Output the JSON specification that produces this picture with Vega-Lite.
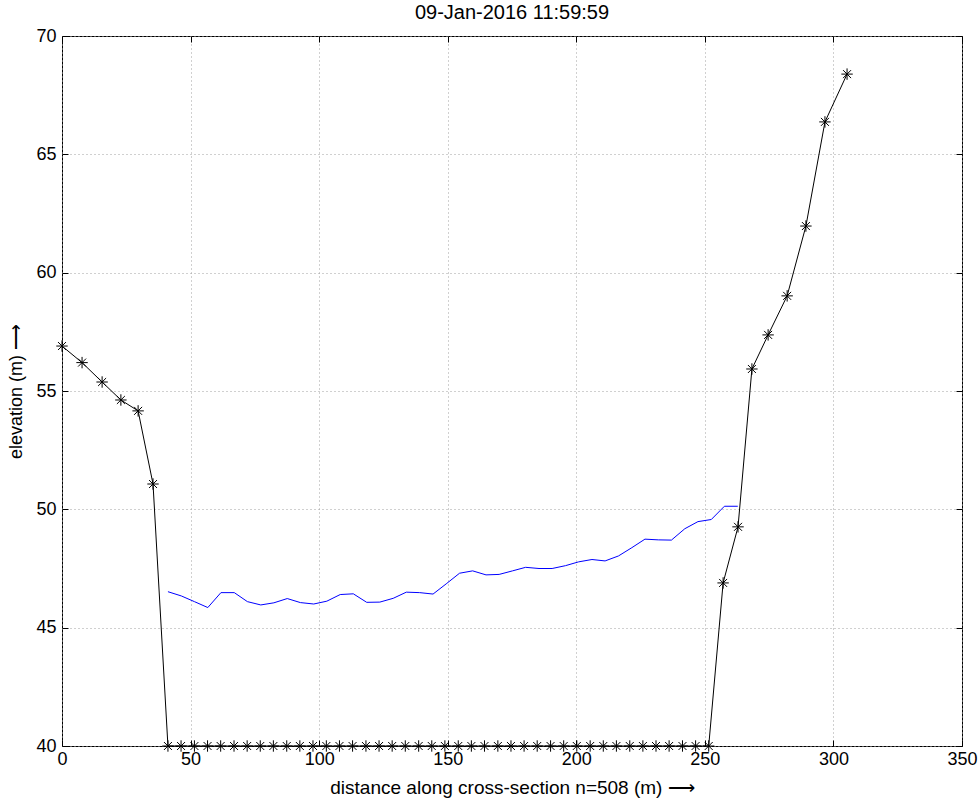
{
  "$schema": "https://vega.github.io/schema/vega-lite/v6.json",
  "autosize": {"type": "none"},
  "padding": {"left": 62, "top": 36, "right": 18, "bottom": 56},
  "width": 900,
  "height": 710,
  "background": "white",
  "config": {
    "font": "Liberation Sans",
    "view": {"stroke": "#000", "strokeWidth": 1},
    "title": {"fontSize": 20, "fontWeight": "normal", "color": "#000", "font": "Liberation Sans"},
    "axis": {"domain": false, "labelColor": "#000", "titleColor": "#000", "tickColor": "#000", "labelFont": "Liberation Sans", "titleFont": "Liberation Sans", "titleFontWeight": "normal", "labelFontSize": 18, "titleFontSize": 18}
  },
  "title": {"text": "09-Jan-2016 11:59:59", "fontSize": 20, "fontWeight": "normal", "anchor": "middle", "offset": 4, "font": "Liberation Sans", "color": "#000"},
  "datasets": {
    "bank": [
      {"i": 1, "d": 0, "z": 56.9},
      {"i": 2, "d": 7.8, "z": 56.2},
      {"i": 3, "d": 15.6, "z": 55.38},
      {"i": 4, "d": 22.9, "z": 54.62},
      {"i": 5, "d": 29.6, "z": 54.16},
      {"i": 6, "d": 35.4, "z": 51.07},
      {"i": 7, "d": 41.2, "z": 40},
      {"i": 8, "d": 46.3, "z": 40},
      {"i": 9, "d": 51.5, "z": 40},
      {"i": 10, "d": 56.6, "z": 40},
      {"i": 11, "d": 61.7, "z": 40},
      {"i": 12, "d": 66.9, "z": 40},
      {"i": 13, "d": 72.0, "z": 40},
      {"i": 14, "d": 77.1, "z": 40},
      {"i": 15, "d": 82.2, "z": 40},
      {"i": 16, "d": 87.4, "z": 40},
      {"i": 17, "d": 92.5, "z": 40},
      {"i": 18, "d": 97.6, "z": 40},
      {"i": 19, "d": 102.8, "z": 40},
      {"i": 20, "d": 107.9, "z": 40},
      {"i": 21, "d": 113.0, "z": 40},
      {"i": 22, "d": 118.2, "z": 40},
      {"i": 23, "d": 123.3, "z": 40},
      {"i": 24, "d": 128.4, "z": 40},
      {"i": 25, "d": 133.5, "z": 40},
      {"i": 26, "d": 138.7, "z": 40},
      {"i": 27, "d": 143.8, "z": 40},
      {"i": 28, "d": 148.9, "z": 40},
      {"i": 29, "d": 154.1, "z": 40},
      {"i": 30, "d": 159.2, "z": 40},
      {"i": 31, "d": 164.3, "z": 40},
      {"i": 32, "d": 169.5, "z": 40},
      {"i": 33, "d": 174.6, "z": 40},
      {"i": 34, "d": 179.7, "z": 40},
      {"i": 35, "d": 184.8, "z": 40},
      {"i": 36, "d": 190.0, "z": 40},
      {"i": 37, "d": 195.1, "z": 40},
      {"i": 38, "d": 200.2, "z": 40},
      {"i": 39, "d": 205.4, "z": 40},
      {"i": 40, "d": 210.5, "z": 40},
      {"i": 41, "d": 215.6, "z": 40},
      {"i": 42, "d": 220.8, "z": 40},
      {"i": 43, "d": 225.9, "z": 40},
      {"i": 44, "d": 231.0, "z": 40},
      {"i": 45, "d": 236.1, "z": 40},
      {"i": 46, "d": 241.3, "z": 40},
      {"i": 47, "d": 246.4, "z": 40},
      {"i": 48, "d": 251.5, "z": 40},
      {"i": 49, "d": 257.1, "z": 46.89},
      {"i": 50, "d": 262.9, "z": 49.26},
      {"i": 51, "d": 268.3, "z": 55.93},
      {"i": 52, "d": 274.6, "z": 57.37},
      {"i": 53, "d": 282.0, "z": 59.02},
      {"i": 54, "d": 289.3, "z": 61.97},
      {"i": 55, "d": 296.7, "z": 66.37},
      {"i": 56, "d": 305.3, "z": 68.39}
    ],
    "water": [
      {"d": 41.2, "z": 46.52},
      {"d": 46.4, "z": 46.34},
      {"d": 51.5, "z": 46.1},
      {"d": 56.7, "z": 45.85},
      {"d": 61.8, "z": 46.48},
      {"d": 67.0, "z": 46.48},
      {"d": 72.1, "z": 46.1},
      {"d": 77.3, "z": 45.96},
      {"d": 82.4, "z": 46.05},
      {"d": 87.6, "z": 46.23},
      {"d": 92.7, "z": 46.06},
      {"d": 97.9, "z": 46.0},
      {"d": 103.0, "z": 46.12},
      {"d": 108.2, "z": 46.4},
      {"d": 113.3, "z": 46.43},
      {"d": 118.5, "z": 46.07},
      {"d": 123.6, "z": 46.08},
      {"d": 128.8, "z": 46.24},
      {"d": 133.9, "z": 46.5},
      {"d": 139.1, "z": 46.48},
      {"d": 144.3, "z": 46.42},
      {"d": 149.4, "z": 46.85},
      {"d": 154.6, "z": 47.3},
      {"d": 159.7, "z": 47.4},
      {"d": 164.9, "z": 47.23},
      {"d": 170.0, "z": 47.25},
      {"d": 175.2, "z": 47.4},
      {"d": 180.3, "z": 47.55},
      {"d": 185.5, "z": 47.5},
      {"d": 190.6, "z": 47.5},
      {"d": 195.8, "z": 47.62},
      {"d": 200.9, "z": 47.78},
      {"d": 206.1, "z": 47.88},
      {"d": 211.2, "z": 47.82},
      {"d": 216.4, "z": 48.03},
      {"d": 221.6, "z": 48.38},
      {"d": 226.7, "z": 48.74},
      {"d": 231.9, "z": 48.71},
      {"d": 237.0, "z": 48.7},
      {"d": 242.2, "z": 49.18},
      {"d": 247.3, "z": 49.48},
      {"d": 252.5, "z": 49.57},
      {"d": 257.6, "z": 50.13},
      {"d": 262.8, "z": 50.13}
    ]
  },
  "resolve": {"axis": {"x": "independent", "y": "independent"}},
  "layer": [
    {
      "data": {"name": "water"},
      "mark": {"type": "line", "color": "#0000ff", "strokeWidth": 1},
      "encoding": {
        "x": {"field": "d", "type": "quantitative", "scale": {"domain": [0, 350], "nice": false, "zero": false},
          "axis": {"orient": "bottom", "title": "distance along cross-section n=508 (m) ⟶", "values": [0, 50, 100, 150, 200, 250, 300, 350], "labelFontSize": 18, "titleFontSize": 19, "tickSize": -6, "labelPadding": 10, "titlePadding": 10, "grid": true, "gridDash": [1, 3], "gridColor": "#a0a0a0", "gridOpacity": 1, "labelFlush": false}},
        "y": {"field": "z", "type": "quantitative", "scale": {"domain": [40, 70], "nice": false, "zero": false},
          "axis": {"orient": "left", "title": "elevation (m) ⟶", "values": [40, 45, 50, 55, 60, 65, 70], "labelFontSize": 18, "titleFontSize": 18, "tickSize": -6, "labelPadding": 12, "titlePadding": 10, "grid": true, "gridDash": [1, 3], "gridColor": "#a0a0a0", "gridOpacity": 1, "labelFlush": false}}
      }
    },
    {
      "data": {"name": "bank"},
      "mark": {"type": "line", "color": "#000", "strokeWidth": 1},
      "encoding": {
        "x": {"field": "d", "type": "quantitative", "axis": {"orient": "top", "labels": false, "title": null, "grid": false, "tickSize": -6, "values": [0, 50, 100, 150, 200, 250, 300, 350]}},
        "y": {"field": "z", "type": "quantitative", "axis": {"orient": "right", "labels": false, "title": null, "grid": false, "tickSize": -6, "values": [40, 45, 50, 55, 60, 65, 70]}},
        "order": {"field": "i", "type": "quantitative"}
      }
    },
    {
      "data": {"name": "bank"},
      "mark": {"type": "point", "shape": "M-1,0H1M0,-1V1M-0.7,-0.7L0.7,0.7M-0.7,0.7L0.7,-0.7", "filled": false, "stroke": "#000", "strokeWidth": 1, "size": 130, "opacity": 1},
      "encoding": {
        "x": {"field": "d", "type": "quantitative", "axis": null},
        "y": {"field": "z", "type": "quantitative", "axis": null}
      }
    }
  ]
}
